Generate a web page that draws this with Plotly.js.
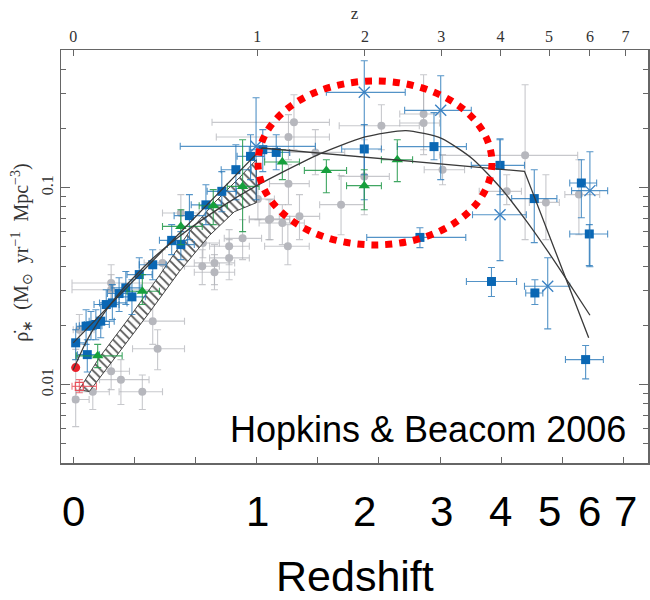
<!DOCTYPE html>
<html><head><meta charset="utf-8">
<script src="https://cdn.plot.ly/plotly-3.0.1.min.js"></script>
<style>html,body{margin:0;padding:0;background:#fff}#chart{width:650px;height:600px}</style>
</head><body><div id="chart"></div>
<script>
// x values: log10(1+z); y values: star formation rate density (Msun / yr / Mpc^3)
const sqX = [0.004,0.021,0.029,0.037,0.045,0.023,0.054,0.064,0.075,0.086,0.096,0.108,0.130,0.161,0.176,0.190,0.217,0.243,0.266,0.290,0.310,0.332,0.476,0.590,0.567,0.698,0.754,0.831,0.844,0.684,0.755,0.838];
const sqY = [0.0163,0.0198,0.0199,0.0202,0.0210,0.0142,0.0255,0.0260,0.0290,0.0310,0.0279,0.0362,0.0406,0.0540,0.0514,0.0721,0.0818,0.0958,0.1234,0.1442,0.1559,0.1510,0.1572,0.1616,0.0559,0.1298,0.0880,0.1056,0.0582,0.0334,0.0292,0.0134];
const sqXLo = [0,0.005,0.010,0.018,0.026,0.007,0.034,0.043,0.056,0.062,0.075,0.088,0.108,0.141,0.154,0.165,0.193,0.219,0.242,0.268,0.288,0.308,0.439,0.530,0.480,0.651,0.717,0.812,0.812,0.643,0.740,0.805];
const sqXHi = [0.020,0.038,0.047,0.059,0.067,0.043,0.075,0.088,0.097,0.111,0.118,0.129,0.152,0.187,0.198,0.216,0.242,0.267,0.291,0.313,0.334,0.354,0.504,0.643,0.642,0.738,0.791,0.856,0.874,0.725,0.768,0.867];
const sqYLo = [0.0134,0.0160,0.0169,0.0169,0.0173,0.0116,0.0209,0.0214,0.0235,0.0255,0.0227,0.0297,0.0341,0.0457,0.0431,0.0545,0.0649,0.0755,0.0869,0.1098,0.1206,0.1234,0.1164,0.1387,0.0496,0.0922,0.0526,0.0704,0.0402,0.0280,0.0255,0.0107];
const sqYHi = [0.0190,0.0240,0.0235,0.0240,0.0255,0.0169,0.0303,0.0322,0.0349,0.0375,0.0341,0.0441,0.0484,0.0649,0.0598,0.0922,0.1035,0.1206,0.1653,0.1858,0.1970,0.1858,0.2089,0.2403,0.0626,0.1773,0.1234,0.1387,0.0649,0.0393,0.0341,0.0158];

const crX = [0.299,0.476,0.601,0.698,0.776,0.845];
const crY = [0.1621,0.3047,0.2469,0.0729,0.0316,0.0966];
const crXLo = [0.175,0.414,0.542,0.653,0.738,0.815];
const crXHi = [0.396,0.543,0.651,0.741,0.812,0.874];
const crYLo = [0.0869,0.0869,0.1098,0.0426,0.0192,0.0397];
const crYHi = [0.2863,0.4413,0.3703,0.1752,0.0441,0.1523];

const trX = [0.040,0.113,0.176,0.229,0.277,0.342,0.414,0.476,0.530];
const trY = [0.0140,0.0298,0.0636,0.0810,0.1015,0.1350,0.1224,0.1024,0.1387];
const trXLo = [0.005,0.088,0.146,0.206,0.252,0.313,0.378,0.447,0.504];
const trXHi = [0.080,0.141,0.211,0.252,0.304,0.370,0.447,0.504,0.555];
const trYLo = [0.0122,0.0255,0.0514,0.0649,0.0598,0.1098,0.0943,0.0773,0.1073];
const trYHi = [0.0160,0.0362,0.0773,0.0977,0.1752,0.1559,0.1387,0.1234,0.1752];

const redDotX = [0.004];
const redDotY = [0.0122];
const redSqX = [0.010];
const redSqY = [0.0098];
const redSqXLo = [-0.002];
const redSqXHi = [0.038];
const redSqYLo = [0.0091];
const redSqYHi = [0.0106];

const gX = [0.004,0.010,0.062,0.062,0.130,0.138,0.062,0.078,0.113,0.032,0.146,0.176,0.211,0.231,0.231,0.255,0.255,0.277,0.302,0.320,0.212,0.361,0.352,0.352,0.322,0.342,0.370,0.351,0.396,0.504,0.573,0.573,0.476,0.438,0.604,0.739,0.709,0.773,0.827];
const gY = [0.0084,0.0190,0.0328,0.0303,0.0210,0.0152,0.0117,0.0106,0.0092,0.0092,0.0415,0.0744,0.0399,0.0415,0.0372,0.0504,0.0440,0.0553,0.0876,0.0688,0.0524,0.2146,0.1809,0.1048,0.0694,0.0662,0.0715,0.0504,0.1510,0.2064,0.2366,0.2130,0.1141,0.0820,0.1234,0.1459,0.0958,0.0842,0.0922];
const gXLo = [0,0,-0.002,-0.002,0.097,0.097,0.034,0.043,0.075,0.005,0.116,0.146,0.182,0.198,0.198,0.223,0.223,0.247,0.272,0.288,0.182,0.227,0.234,0.321,0.288,0.304,0.337,0.313,0.354,0.435,0.534,0.534,0.435,0.403,0.574,0.599,0.664,0.746,0.804];
const gXHi = [0.026,0.034,0.141,0.141,0.182,0.182,0.092,0.124,0.146,0.059,0.182,0.206,0.239,0.264,0.264,0.288,0.288,0.308,0.329,0.354,0.239,0.419,0.419,0.386,0.354,0.378,0.403,0.386,0.444,0.566,0.599,0.599,0.517,0.476,0.640,0.825,0.733,0.795,0.861];
const gYLo = [0.00612,0.0160,0.0270,0.0255,0.0160,0.0119,0.00943,0.00792,0.00747,0.00747,0.0341,0.0577,0.0322,0.0322,0.0303,0.0406,0.0341,0.0431,0.0688,0.0545,0.0441,0.1559,0.1387,0.0820,0.0545,0.0514,0.0545,0.0406,0.1164,0.1559,0.1559,0.1471,0.0729,0.0577,0.1035,0.0545,0.0820,0.0545,0.0577];
const gYHi = [0.0151,0.0227,0.0406,0.0362,0.0270,0.0190,0.0142,0.0134,0.0112,0.0112,0.0484,0.0922,0.0484,0.0514,0.0457,0.0612,0.0545,0.0688,0.1098,0.0869,0.0612,0.2965,0.2348,0.1308,0.0869,0.0820,0.0922,0.0649,0.1970,0.2638,0.3747,0.3144,0.1752,0.1151,0.1471,0.3333,0.1164,0.1164,0.1387];

const bandUpperX = [0.0098,0.0426,0.0917,0.1408,0.1899,0.2308,0.2717,0.2995];
const bandUpperY = [0.00943,0.01371,0.02189,0.03575,0.05977,0.0839,0.1124,0.1387];
const bandLowerX = [0.0262,0.0753,0.1244,0.1735,0.2226,0.2635,0.2995];
const bandLowerY = [0.00922,0.0147,0.0232,0.0375,0.0571,0.0755,0.0839];

const fitX = [0,0.309,0.738,0.843];
const fitY = [0.0163,0.159,0.121,0.0173];
const coleX = [0,0.0212,0.0414,0.0792,0.1303,0.1761,0.2430,0.3010,0.3979,0.4771,0.5441,0.6021,0.6532,0.6990,0.7404,0.7782,0.8129,0.8451];
const coleY = [0.0119,0.0165,0.0210,0.0301,0.0438,0.0574,0.0801,0.1027,0.146,0.181,0.195,0.178,0.140,0.0997,0.0682,0.0465,0.0320,0.0225];

const topZ = [0,1,2,3,4,5,6,7];
const bottomTicks = [0,0.1,0.2,0.3,0.4,0.5,0.6,0.7,0.8,0.9];
const yMajor = [0.01,0.1];
const yMinor = [0.004,0.005,0.006,0.007,0.008,0.009,0.02,0.03,0.04,0.05,0.06,0.07,0.08,0.09,0.2,0.3,0.4,0.5];

function ex(v, lo, hi, color){
  return {type:'data', symmetric:false, array:hi.map((h,i)=>h-v[i]), arrayminus:v.map((x,i)=>x-lo[i]), color:color, thickness:1.1, width:3.5};
}

const grayBar = 'rgba(175,177,183,0.7)';
const blueBar = 'rgba(40,120,185,0.8)';
const greenBar = 'rgba(30,150,70,0.85)';

const traces = [
  {x:gX, y:gY, mode:'markers', type:'scatter', marker:{symbol:'circle', size:8, color:'#b6b7bd'},
   error_x:ex(gX,gXLo,gXHi,grayBar), error_y:ex(gY,gYLo,gYHi,grayBar)},
  {x:bandUpperX.concat(bandLowerX.slice().reverse(), [bandUpperX[0]]),
   y:bandUpperY.concat(bandLowerY.slice().reverse(), [bandUpperY[0]]),
   mode:'lines', type:'scatter', fill:'toself', line:{color:'#444', width:1},
   fillcolor:'rgba(255,255,255,1)',
   fillpattern:{shape:'\\', fgcolor:'#555', bgcolor:'rgba(255,255,255,0.9)', size:6, solidity:0.3}},
  {x:sqX, y:sqY, mode:'markers', type:'scatter', marker:{symbol:'square', size:9, color:'#0a67b4'},
   error_x:ex(sqX,sqXLo,sqXHi,blueBar), error_y:ex(sqY,sqYLo,sqYHi,blueBar)},
  {x:crX, y:crY, mode:'markers', type:'scatter', marker:{symbol:'x-thin-open', size:11, color:'#3b82c4', line:{color:'#3b82c4', width:1.4}},
   error_x:ex(crX,crXLo,crXHi,blueBar), error_y:ex(crY,crYLo,crYHi,blueBar)},
  {x:trX, y:trY, mode:'markers', type:'scatter', marker:{symbol:'triangle-up', size:10, color:'#16a03c'},
   error_x:ex(trX,trXLo,trXHi,greenBar), error_y:ex(trY,trYLo,trYHi,greenBar)},
  {x:redSqX, y:redSqY, mode:'markers', type:'scatter', marker:{symbol:'square-open', size:8, color:'#e8505a', line:{color:'#e8505a', width:1.2}},
   error_x:ex(redSqX,redSqXLo,redSqXHi,'rgba(232,80,90,0.8)'), error_y:ex(redSqY,redSqYLo,redSqYHi,'rgba(232,80,90,0.8)')},
  {x:redDotX, y:redDotY, mode:'markers', type:'scatter', marker:{symbol:'circle', size:9, color:'#e8202a'}},
  {x:fitX, y:fitY, mode:'lines', type:'scatter', line:{color:'#3a3a3a', width:1.3}},
  {x:coleX, y:coleY, mode:'lines', type:'scatter', line:{color:'#3a3a3a', width:1.3, shape:'spline', smoothing:0.6}},
  {x:[], y:[], xaxis:'x2', yaxis:'y', type:'scatter', mode:'markers'}
];

const serif = 'Liberation Serif, Times New Roman, serif';
const sans = 'Liberation Sans, Arial, sans-serif';

const annotations = topZ.map(z => ({
  x:Math.log10(1+z), xref:'x', y:-0.118, yref:'paper', text:String(z), showarrow:false,
  xanchor:'center', yanchor:'middle', font:{family:sans, size:42, color:'#000'}
}));
annotations.push({x:0.5, xref:'paper', y:-0.274, yref:'paper', text:'Redshift', showarrow:false,
  xanchor:'center', yanchor:'middle', font:{family:sans, size:43, color:'#000'}});
annotations.push({x:0.2845, xref:'paper', y:0.081, yref:'paper', text:'Hopkins & Beacom 2006', showarrow:false,
  xanchor:'left', yanchor:'middle', font:{family:sans, size:36, color:'#000'}});
annotations.push({x:-0.066, xref:'paper', y:0.51, yref:'paper', textangle:-90, showarrow:false,
  text:'ρ̇<sub>∗</sub>  (M<sub>⊙</sub>  yr<sup>−1</sup>  Mpc<sup>−3</sup>)',
  xanchor:'center', yanchor:'middle', font:{family:serif, size:20, color:'#333'}});

const layout = {
  width:650, height:600,
  margin:{l:61, r:2, t:50, b:137},
  paper_bgcolor:'#fff', plot_bgcolor:'#fff',
  showlegend:false,
  xaxis:{range:[-0.02,0.94], tickmode:'array', tickvals:bottomTicks, showticklabels:false,
    ticks:'inside', ticklen:6, tickcolor:'#666', showline:true, linecolor:'#666', linewidth:1.5,
    showgrid:false, zeroline:false},
  xaxis2:{overlaying:'x', side:'top', range:[-0.02,0.94], tickmode:'array',
    tickvals:topZ.map(z=>Math.log10(1+z)), ticktext:topZ.map(String),
    ticks:'inside', ticklen:6, tickcolor:'#666', showline:true, linecolor:'#666', linewidth:1.5,
    showgrid:false, zeroline:false, tickfont:{family:serif, size:16, color:'#333'},
    title:{text:'z', font:{family:serif, size:17, color:'#333'}, standoff:4}},
  yaxis:{type:'log', range:[Math.log10(0.004), Math.log10(0.5)], tickmode:'array',
    tickvals:yMajor, ticktext:yMajor.map(String), ticks:'inside', ticklen:9, tickcolor:'#666',
    minor:{tickmode:'array', tickvals:yMinor, ticks:'inside', ticklen:5, tickcolor:'#666', showgrid:false},
    showline:true, linecolor:'#666', linewidth:1.5, mirror:'ticks',
    showgrid:false, zeroline:false, tickangle:-90,
    tickfont:{family:serif, size:16, color:'#333'}},
  shapes:[{type:'circle', xref:'paper', yref:'paper', x0:0.3356, x1:0.7342, y0:0.528, y1:0.925,
    line:{color:'#ff0000', width:7, dash:'dot'}}],
  annotations:annotations
};

Plotly.newPlot('chart', traces, layout, {displayModeBar:false, staticPlot:true});
</script>
</body></html>
